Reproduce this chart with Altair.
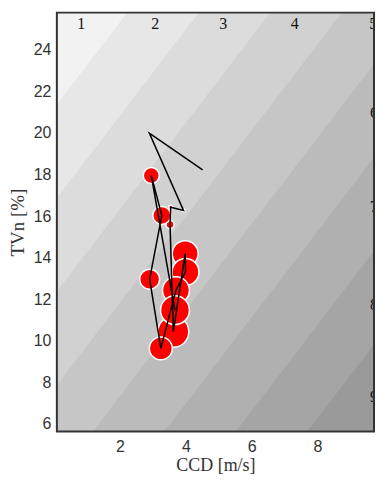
import altair as alt
import pandas as pd

# ---- data ----
# path of the measurements (in sequence order)
ccd = [4.51, 2.89, 3.93, 3.54, 3.52, 3.62, 3.98, 3.99, 3.70, 3.24, 2.90, 3.27, 2.95, 3.67]
tvn = [18.22, 19.99, 16.27, 16.42, 15.59, 10.43, 14.19, 13.31, 12.43, 9.63, 12.96, 16.03, 17.95, 11.47]
weight = [0, 2, 2, 4, 16, 240, 169, 182, 182, 132, 100, 81, 64, 210]

# background bands: boundaries TVn = BAND_SLOPE * CCD + cut, gray level per band
BAND_SLOPE = 2.07
band_cuts = [21.2, 16.7, 12.2, 7.7, 3.2, -1.3, -5.8, -10.3]
band_gray = [242, 231, 220, 209, 198, 187, 176, 165, 154]

# band labels
lab_text = ["1", "2", "3", "4", "5", "6", "7", "8", "9"]
lab_x = [0.82, 3.07, 5.14, 7.31, 9.70, 9.72, 9.72, 9.72, 9.72]
lab_y = [25.25, 25.25, 25.25, 25.25, 25.25, 20.94, 16.43, 11.71, 7.31]

x_ticks = [2, 4, 6, 8]
y_ticks = [6, 8, 10, 12, 14, 16, 18, 20, 22, 24]
X_DOM = [0.08, 9.72]
Y_DOM = [5.63, 25.79]

W, H = 318, 420


def gray(v):
    return "#%02x%02x%02x" % (v, v, v)


x_scale = alt.Scale(domain=X_DOM, nice=False, zero=False)
y_scale = alt.Scale(domain=Y_DOM, nice=False, zero=False)

x_axis = alt.Axis(title="CCD [m/s]", values=x_ticks, grid=False, ticks=False, domain=False,
                  labelFont="Liberation Sans", labelFontSize=16, labelColor="#333333",
                  labelPadding=7, titleFont="Liberation Serif", titleFontSize=18,
                  titleFontWeight="normal", titleColor="#333333", titlePadding=2)
y_axis = alt.Axis(title="TVn [%]", values=y_ticks, grid=False, ticks=False, domain=False,
                  labelFont="Liberation Sans", labelFontSize=16, labelColor="#333333",
                  labelPadding=6, titleFont="Liberation Serif", titleFontSize=19,
                  titleFontWeight="normal", titleColor="#333333", titlePadding=6)

layers = []
# bands: darker first, lighter ones on top (area above each boundary line)
for j in reversed(range(len(band_cuts))):
    df = pd.DataFrame({"x": [-2.0, 14.0], "cut": [band_cuts[j]] * 2})
    layers.append(
        alt.Chart(df).transform_calculate(
            y=f"{BAND_SLOPE} * datum.x + datum.cut", y2="40"
        ).mark_area(clip=True, color=gray(band_gray[j]), opacity=1).encode(
            x=alt.X("x:Q", scale=x_scale, axis=x_axis),
            y=alt.Y("y:Q", scale=y_scale, axis=y_axis, stack=None),
            y2="y2:Q",
        )
    )

pts = pd.DataFrame({"seq": list(range(len(ccd))), "ccd": ccd, "tvn": tvn, "w": weight})

circles = alt.Chart(pts).mark_circle(
    color="#ff0000", opacity=1, stroke="white", strokeWidth=1.5
).encode(
    x=alt.X("ccd:Q", scale=x_scale, axis=x_axis),
    y=alt.Y("tvn:Q", scale=y_scale, axis=y_axis),
    size=alt.Size("w:Q", scale=alt.Scale(domain=[0, 250], range=[0, 1000]), legend=None),
    order=alt.Order("seq:Q"),
)

path = alt.Chart(pts).mark_line(color="black", strokeWidth=1.5).encode(
    x=alt.X("ccd:Q", scale=x_scale, axis=x_axis),
    y=alt.Y("tvn:Q", scale=y_scale, axis=y_axis),
    order=alt.Order("seq:Q"),
)

labs = pd.DataFrame({"t": lab_text, "x": lab_x, "y": lab_y})
labels = alt.Chart(labs).mark_text(
    font="Liberation Serif", fontSize=16, color="#111111", clip=True
).encode(
    x=alt.X("x:Q", scale=x_scale, axis=x_axis),
    y=alt.Y("y:Q", scale=y_scale, axis=y_axis),
    text="t:N",
)

frame = alt.Chart(pd.DataFrame({"k": [0]})).mark_rect(
    fillOpacity=0, stroke="#333333", strokeWidth=2
).encode(
    x=alt.value(0), x2=alt.value(W), y=alt.value(0), y2=alt.value(H)
)

chart = alt.layer(*layers, circles, path, labels, frame).properties(
    width=W, height=H,
    padding={"left": 0, "top": 3, "right": 0, "bottom": 0},
    background="white",
).configure_view(
    fill=gray(band_gray[-1]), stroke=None
)

chart.save("out.html", embed_options={"renderer": "svg", "actions": False})
